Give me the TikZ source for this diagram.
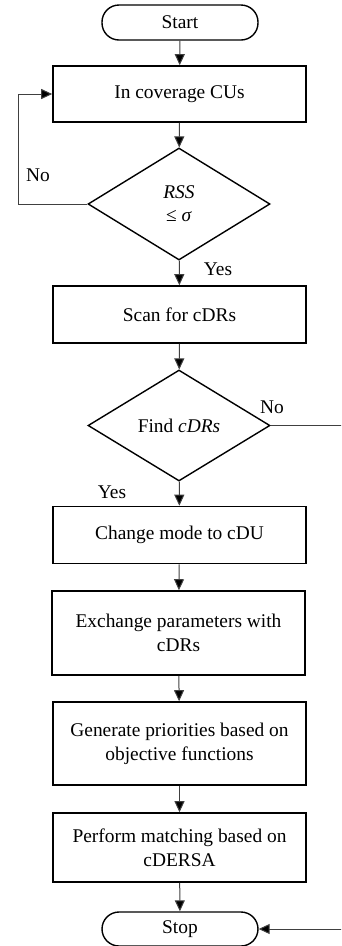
\documentclass[tikz,border=0pt]{standalone}
\usepackage{fontspec}
\setmainfont{Liberation Serif}
\usetikzlibrary{shapes.geometric,arrows.meta}
\begin{document}
\begin{tikzpicture}[x=1pt,y=-1pt,
  every node/.style={font=\fontsize{19.4}{24}\selectfont},
  term/.style={draw,line width=1.4pt,rounded corners=17pt,minimum width=156pt,inner sep=0pt,align=center},
  procbox/.style={draw,line width=1.6pt,minimum width=253pt,inner sep=0pt,align=center},
  decision/.style={draw,line width=1.4pt,diamond,minimum width=182pt,inner sep=0pt,align=center},
  conn/.style={draw=black!75,line width=1pt,-{Triangle[length=11pt,width=10pt,fill=black]}},
  lbl/.style={inner sep=0pt}]
\useasboundingbox (0,0) rectangle (341,946);
\clip (0,0) rectangle (341,946);
\node[term,minimum height=35pt] (start) at (180,22.5) {Start};
\node[procbox,minimum height=56pt] (b1) at (179.5,94) {In coverage CUs};
\node[decision,minimum height=112pt] (d1) at (179,204) {\textit{RSS}\\[-1pt]≤ \textit{σ}};
\node[procbox,minimum height=57pt] (b2) at (179.5,314.5) {Scan for cDRs};
\node[decision,minimum height=111pt] (d2) at (179,425.5) {Find \textit{cDRs}};
\node[procbox,minimum height=57pt] (b3) at (179.5,535) {Change mode to cDU};
\node[procbox,minimum height=84pt] (b4) at (178.5,633) {Exchange parameters with\\cDRs};
\node[procbox,minimum height=83pt] (b5) at (179.5,743.5) {Generate priorities based on\\objective functions};
\node[procbox,minimum height=69pt] (b6) at (179.5,847.5) {Perform matching based on\\cDERSA};
\node[term,minimum height=34pt] (stop) at (180,929) {Stop};
\coordinate (lp) at (18,204);
\coordinate (rp) at (346,425.5);
\draw[conn] (start) -- (b1);
\draw[conn] (b1) -- (d1);
\draw[conn] (d1) -- (b2);
\draw[conn] (b2) -- (d2);
\draw[conn] (d2) -- (b3);
\draw[conn] (b3) -- (b4);
\draw[conn] (b4) -- (b5);
\draw[conn] (b5) -- (b6);
\draw[conn] (b6) -- (stop);
\draw[conn] (d1.west) -- (lp) |- (b1.west);
\draw[conn] (d2.east) -- (rp) |- (stop.east);
\node[lbl] (no1) at (38,175) {No};
\node[lbl] (yes1) at (218,269) {Yes};
\node[lbl] (no2) at (272,407) {No};
\node[lbl] (yes2) at (112,492) {Yes};
\end{tikzpicture}
\end{document}
